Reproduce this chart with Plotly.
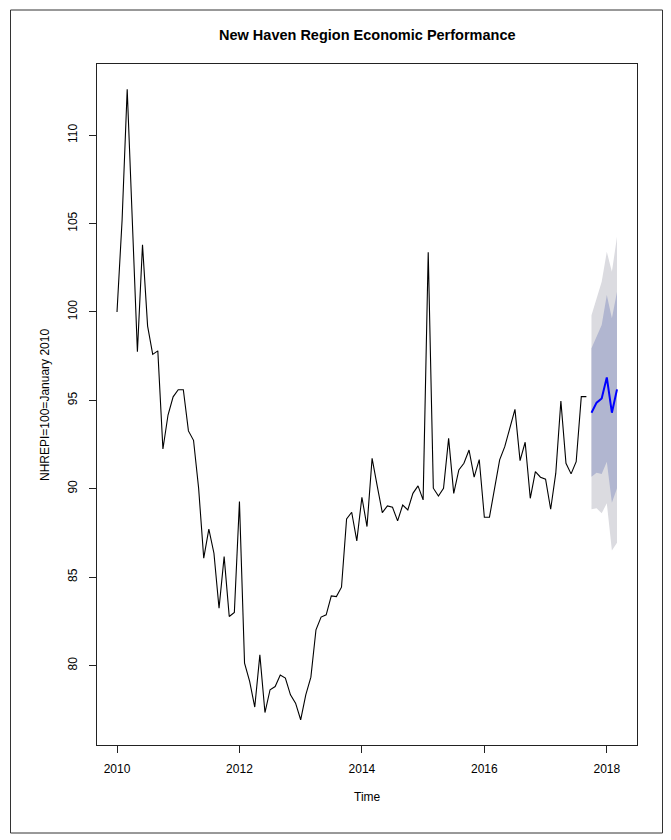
import numpy as np
import plotly.graph_objects as go

# Monthly index, January 2010 = 100
start_year = 2010
index_values = [
    100.0, 105.2, 112.6, 105.2, 97.75, 103.8, 99.2, 97.6, 97.8, 92.25,
    94.17, 95.2, 95.6, 95.6, 93.27, 92.74, 90.03, 86.07, 87.71, 86.35,
    83.24, 86.16, 82.77, 83.0, 89.27, 80.13, 79.1, 77.65, 80.6, 77.34,
    78.63, 78.81, 79.46, 79.29, 78.34, 77.87, 76.93, 78.34, 79.34, 82.02,
    82.74, 82.87, 83.94, 83.9, 84.43, 88.29, 88.67, 87.05, 89.52, 87.86,
    91.72, 90.16, 88.65, 89.03, 88.95, 88.18, 89.08, 88.8, 89.74, 90.16,
    89.37, 103.38, 90.03, 89.59, 90.03, 92.85, 89.74, 91.06, 91.44, 92.19,
    90.66, 91.65, 88.39, 88.39, 90.12, 91.63, 92.38, 93.42, 94.49, 91.59,
    92.63, 89.46, 90.97, 90.65, 90.54, 88.84, 90.88, 94.96, 91.44, 90.84,
    91.53, 95.21, 95.21,
]

# Six-month forecast (October 2017 - March 2018)
fc_mean = [94.3, 94.87, 95.11, 96.3, 94.3, 95.62]
fc_lo80 = [90.68, 90.91, 90.84, 91.53, 89.21, 90.03]
fc_hi80 = [97.94, 98.6, 99.26, 100.96, 99.64, 101.14]
fc_lo95 = [88.84, 88.9, 88.61, 89.18, 86.5, 86.95]
fc_hi95 = [99.82, 100.77, 101.71, 103.4, 102.27, 104.25]

x_ticks = [2010, 2012, 2014, 2016, 2018]
y_ticks = [80, 85, 90, 95, 100, 105, 110]

t_obs = start_year + np.arange(len(index_values)) / 12.0
t_fc = t_obs[-1] + (np.arange(len(fc_mean)) + 1) / 12.0

# R-style 4% axis padding
all_t = np.concatenate([t_obs, t_fc])
all_y = np.concatenate([index_values, fc_lo95, fc_hi95])
xpad = 0.04 * (all_t.max() - all_t.min())
ypad = 0.04 * (all_y.max() - all_y.min())
xr = [all_t.min() - xpad, all_t.max() + xpad]
yr = [all_y.min() - ypad, all_y.max() + ypad]

W, H = 671, 840
ML, MR, MT, MB = 97, 34, 64, 95
PW, PH = W - ML - MR, H - MT - MB


def px(x):
    return (x - ML) / PW


def py(y):
    return (H - MB - y) / PH


font = "Liberation Sans, Arial, sans-serif"
fig = go.Figure()

band95_x = list(t_fc) + list(t_fc[::-1])
band95_y = list(fc_hi95) + list(fc_lo95[::-1])
fig.add_trace(go.Scatter(x=band95_x, y=band95_y, fill="toself", mode="lines",
                         line=dict(width=0), fillcolor="#DBDBE0",
                         hoverinfo="skip", showlegend=False))
band80_x = list(t_fc) + list(t_fc[::-1])
band80_y = list(fc_hi80) + list(fc_lo80[::-1])
fig.add_trace(go.Scatter(x=band80_x, y=band80_y, fill="toself", mode="lines",
                         line=dict(width=0), fillcolor="#B1B6D0",
                         hoverinfo="skip", showlegend=False))
fig.add_trace(go.Scatter(x=t_obs, y=index_values, mode="lines",
                         line=dict(color="black", width=1.1), showlegend=False))
fig.add_trace(go.Scatter(x=t_fc, y=fc_mean, mode="lines",
                         line=dict(color="#0000FF", width=2), showlegend=False))

axis_common = dict(showgrid=False, zeroline=False, showline=True, mirror=True,
                   linecolor="#222222", linewidth=1, ticks="outside", ticklen=7,
                   tickcolor="#222222", tickwidth=1,
                   tickfont=dict(family=font, size=12, color="black"))

fig.update_layout(
    width=W, height=H,
    margin=dict(l=ML, r=MR, t=MT, b=MB),
    plot_bgcolor="white", paper_bgcolor="white",
    xaxis=dict(range=xr, tickvals=x_ticks, ticklabelstandoff=6, **axis_common),
    yaxis=dict(range=yr, tickvals=y_ticks, tickangle=-90, ticklabelstandoff=7,
               **axis_common),
    annotations=[
        dict(text="<b>New Haven Region Economic Performance</b>", x=px(367), y=py(35),
             xref="paper", yref="paper", xanchor="center", yanchor="middle",
             showarrow=False, font=dict(family=font, size=14.5, color="black")),
        dict(text="Time", x=px(367), y=py(797), xref="paper", yref="paper",
             xanchor="center", yanchor="middle",
             showarrow=False, font=dict(family=font, size=12, color="black")),
        dict(text="NHREPI=100=January 2010", x=px(45), y=py(405), xref="paper",
             yref="paper", xanchor="center", yanchor="middle",
             showarrow=False, textangle=-90,
             font=dict(family=font, size=12, color="black")),
    ],
    shapes=[
        dict(type="rect", xref="paper", yref="paper",
             x0=px(10.5), x1=px(662.5), y0=py(10), y1=py(833),
             line=dict(color="#333333", width=1)),
    ],
)

fig.write_html("out.html")
